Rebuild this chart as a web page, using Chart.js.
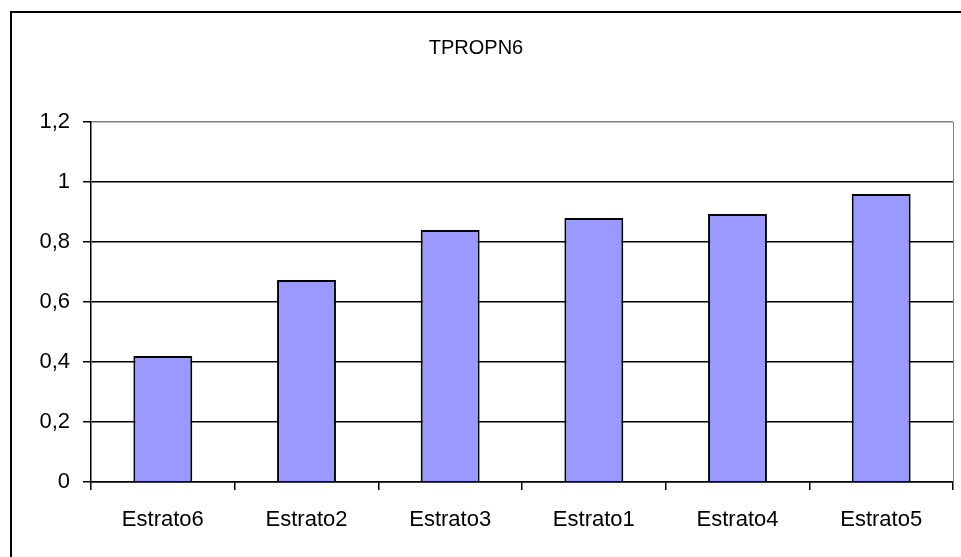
<!DOCTYPE html>
<html>
<head>
<meta charset="utf-8">
<script src="https://cdn.jsdelivr.net/npm/chart.js@4.4.1/dist/chart.umd.min.js"></script>
<style>
  html, body { margin: 0; padding: 0; background: #fff; }
  canvas { display: block; }
</style>
</head>
<body>
<canvas id="chart" width="961" height="557"></canvas>
<script>
const chartTitle = 'TPROPN6';
const strata = ['Estrato6', 'Estrato2', 'Estrato3', 'Estrato1', 'Estrato4', 'Estrato5'];
const tpropValues = [0.42, 0.673, 0.84, 0.88, 0.893, 0.96];
const yTicks = [0, 0.2, 0.4, 0.6, 0.8, 1, 1.2];

const FONT = 'Arial, "Liberation Sans", sans-serif';

// outer frame, grey plot border and the title
const frame = {
  id: 'frame',
  afterDraw(chart) {
    const { ctx, chartArea } = chart;
    ctx.save();
    ctx.strokeStyle = '#000';
    ctx.lineWidth = 2;
    ctx.strokeRect(11, 12, 1000, 1000);

    ctx.strokeStyle = '#808080';
    ctx.lineWidth = 1;
    ctx.beginPath();
    ctx.moveTo(chartArea.right + 0.5, chartArea.top);
    ctx.lineTo(chartArea.right + 0.5, chartArea.bottom);
    ctx.stroke();

    ctx.fillStyle = '#000';
    ctx.font = '20px ' + FONT;
    ctx.textAlign = 'center';
    ctx.textBaseline = 'middle';
    ctx.fillText(chartTitle, 476, 48);
    ctx.restore();
  }
};

new Chart(document.getElementById('chart'), {
  type: 'bar',
  data: {
    labels: strata,
    datasets: [{
      label: chartTitle,
      data: tpropValues,
      backgroundColor: '#9999ff',
      borderColor: '#000',
      borderWidth: 2,
      barPercentage: 0.41,
      categoryPercentage: 1
    }]
  },
  options: {
    responsive: false,
    animation: false,
    layout: { padding: { top: 122, right: 8, left: 0, bottom: 0 } },
    plugins: {
      legend: { display: false },
      tooltip: { enabled: false }
    },
    scales: {
      x: {
        afterFit(scale) { scale.height = 75; },
        grid: {
          offset: true,
          drawOnChartArea: false,
          tickLength: 8,
          tickColor: '#000',
          lineWidth: 1.5
        },
        border: { color: '#000', width: 1.5 },
        ticks: {
          color: '#000',
          padding: 17,
          font: { family: FONT, size: 22 }
        }
      },
      y: {
        min: 0,
        max: 1.2,
        afterFit(scale) { scale.width = 91; },
        afterBuildTicks(scale) {
          scale.ticks = yTicks.map(v => ({ value: v }));
        },
        grid: {
          color: c => (c.tick && c.tick.value === 1.2 ? '#808080' : '#000'),
          tickColor: '#000',
          tickLength: 8,
          lineWidth: 1.5
        },
        border: { color: '#000', width: 1.5 },
        ticks: {
          color: '#000',
          padding: 13,
          font: { family: FONT, size: 22 },
          callback: v => String(Math.round(v * 10) / 10).replace('.', ',')
        }
      }
    }
  },
  plugins: [frame]
});
</script>
</body>
</html>
